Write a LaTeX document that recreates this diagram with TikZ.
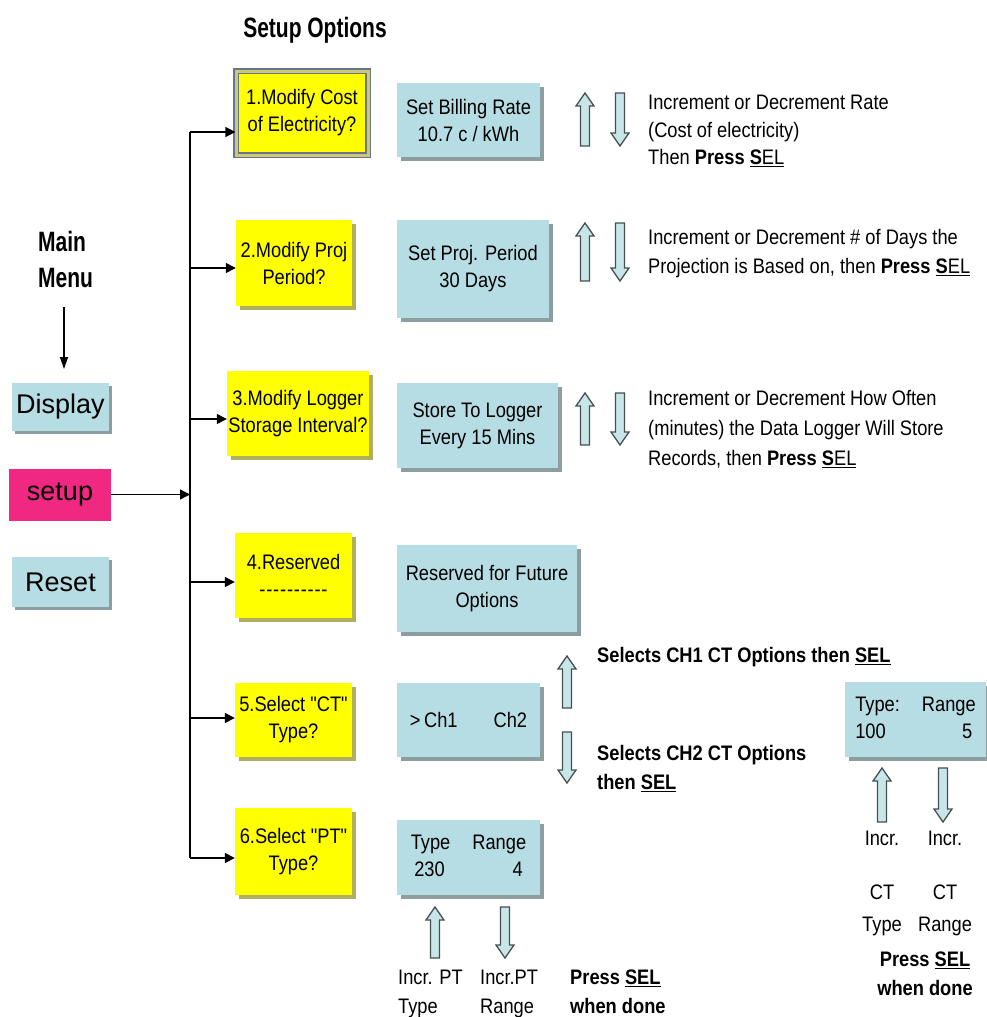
\documentclass[tikz,border=0pt]{standalone}
\usepackage{fontspec}
\setmainfont{Liberation Sans}
\newfontfamily\nar[FakeStretch=0.87]{Liberation Sans}
\newfontfamily\narb[FakeStretch=0.75]{Liberation Sans}
\usetikzlibrary{arrows.meta,shadows}
\definecolor{ylw}{RGB}{255,255,0}
\definecolor{yshd}{RGB}{175,175,95}
\definecolor{khaki}{RGB}{205,200,120}
\definecolor{frm}{RGB}{105,115,140}
\definecolor{lblue}{RGB}{183,221,228}
\definecolor{bshd}{RGB}{140,158,160}
\definecolor{pinkbox}{RGB}{240,40,130}
\definecolor{arrfill}{RGB}{200,230,232}
\definecolor{arrline}{RGB}{70,80,80}
\tikzset{
  boxfont/.style={font=\nar\fontsize{21}{27}\selectfont},
  ybox/.style={fill=ylw, draw=none, boxfont, align=center, inner sep=0pt,
    drop shadow={shadow xshift=4pt,shadow yshift=-4pt,fill=yshd,opacity=1}},
  bbox/.style={fill=lblue, draw=none, boxfont, align=center, inner sep=0pt,
    drop shadow={shadow xshift=4pt,shadow yshift=-4pt,fill=bshd,opacity=1}},
  menubox/.style={fill=lblue, draw=none, font=\fontsize{27}{30}\selectfont, inner sep=0pt,
    drop shadow={shadow xshift=3pt,shadow yshift=-3pt,fill=bshd,opacity=1}},
  desc/.style={font=\nar\fontsize{21}{29}\selectfont, align=left, inner sep=0pt, anchor=north west},
  descb/.style={font=\nar\bfseries\fontsize{21}{29}\selectfont, align=left, inner sep=0pt, anchor=north west},
  lbl/.style={font=\nar\fontsize{21}{32}\selectfont, align=center, inner sep=0pt},
  title/.style={font=\narb\bfseries\fontsize{28}{36}\selectfont, inner sep=0pt},
  arr/.style={line width=1.4pt, -{Triangle[length=10pt,width=10pt]}},
  conn/.style={line width=1.4pt},
  blk/.style={fill=arrfill, draw=arrline, line width=1.3pt, line join=miter},
}
\newcommand\blkup[3]{\draw[blk] (#1-4.5,#3) -- (#1-4.5,#2+13) -- (#1-9,#2+13) -- (#1,#2) -- (#1+9,#2+13) -- (#1+4.5,#2+13) -- (#1+4.5,#3) -- cycle;}
\newcommand\blkdn[3]{\draw[blk] (#1-4.5,#2) -- (#1-4.5,#3-13) -- (#1-9,#3-13) -- (#1,#3) -- (#1+9,#3-13) -- (#1+4.5,#3-13) -- (#1+4.5,#2) -- cycle;}
\newcommand\sel{\underline{\textbf{S}EL}}
\newcommand\dsh{-\kern0.8pt}
\begin{document}
\begin{tikzpicture}[x=1pt,y=-1pt]
\useasboundingbox[fill=white] (0,0) rectangle (986,1017);

% titles
\node[title] (setopt) at (315,30) {Setup Options};
\node[title, align=left, anchor=north west] (mm) at (38,231) {Main\\Menu};

% main menu boxes
\node[menubox, minimum width=97, minimum height=48] (disp) at (60.5,407) {Display};
\node[fill=pinkbox, draw=none, font=\fontsize{27}{30}\selectfont, inner sep=0pt,
      minimum width=102, minimum height=52] (setup) at (60,494.5) {setup};
\node[menubox, minimum width=97, minimum height=50] (reset) at (60.5,582) {Reset};

\coordinate (mmtop) at (64,307);
\coordinate (mmtip) at (64,369);
\draw[line width=1.4pt, -{Triangle[length=12pt,width=8pt]}] (mmtop) -- (mmtip);

% yellow option boxes
\node[fill=ylw, boxfont, align=center, inner sep=0pt, draw=frm, double=khaki,
      double distance=3pt, line width=1.2pt, minimum width=132, minimum height=84] (b1) at (302,113)
      {1.Modify Cost\\of Electricity?};
\node[ybox, minimum width=116, minimum height=86] (b2) at (294,263) {2.Modify Proj\\Period?};
\node[ybox, minimum width=142, minimum height=85] (b3) at (298,413.5) {3.Modify Logger\\Storage Interval?};
\node[ybox, minimum width=117, minimum height=85] (b4) at (293.5,575.5) {4.Reserved\\\dsh\dsh\dsh\dsh\dsh\dsh\dsh\dsh\dsh-};
\node[ybox, minimum width=117, minimum height=74] (b5) at (293.5,720) {5.Select "CT"\\Type?};
\node[ybox, minimum width=117, minimum height=87] (b6) at (293.5,851.5) {6.Select "PT"\\Type?};

% trunk
\coordinate (t1) at (190,132);
\coordinate (t2) at (190,268);
\coordinate (t3) at (190,419);
\coordinate (t4) at (190,582);
\coordinate (t5) at (190,718);
\coordinate (t6) at (190,858);
\draw[conn] (t1) -- (t6);
\draw[arr] (setup.east) -- (setup.east -| t1);
\foreach \i in {1,...,6} { \draw[arr] (t\i) -- (t\i -| b\i.west); }

% blue value boxes
\node[bbox, minimum width=143, minimum height=74] (c1) at (468.5,120) {Set Billing Rate\\10.7 c / kWh};
\node[bbox, minimum width=152, minimum height=98] (c2) at (473,269) {Set Proj. Period\\30 Days};
\node[bbox, minimum width=161, minimum height=85] (c3) at (477.5,425.5) {Store To Logger\\Every 15 Mins};
\node[bbox, minimum width=180, minimum height=87] (c4) at (487,588.5) {Reserved for Future\\Options};
\node[bbox, minimum width=143, minimum height=74] (c5) at (468.5,720) {>\,Ch1\hspace{36pt}Ch2};
\node[bbox, minimum width=143, minimum height=75] (c6) at (468.5,857.5)
   {\begin{tabular}{@{}l@{\hspace{22pt}}r@{}}Type & Range\\ \,230 & 4\,\end{tabular}};
\node[bbox, minimum width=141, minimum height=75] (c7) at (915.5,719.5)
   {\begin{tabular}{@{}l@{\hspace{22pt}}r@{}}Type: & Range\\ 100 & 5\,\end{tabular}};

% block arrows
\blkup{585}{93}{146}  \blkdn{620}{93}{146}
\blkup{585}{223}{281} \blkdn{620}{223}{281}
\blkup{585}{393}{445} \blkdn{620}{393}{445}
\blkup{567}{656}{708} \blkdn{567}{732}{783}
\blkup{435}{907}{958} \blkdn{505}{907}{958}
\blkup{882}{768}{822} \blkdn{943}{768}{822}

% descriptions
\node[desc, font=\nar\fontsize{21}{27.5}\selectfont] (d1) at (648,95) {Increment or Decrement Rate\\(Cost of electricity)\\Then \textbf{Press} \sel};
\node[desc] (d2) at (648,229) {Increment or Decrement \# of Days the\\Projection is Based on, then \textbf{Press} \sel};
\node[desc, font=\nar\fontsize{21}{30}\selectfont] (d3) at (648,390) {Increment or Decrement How Often\\(minutes) the Data Logger Will Store\\Records, then \textbf{Press} \sel};
\node[descb, anchor=west] (d5a) at (597,657) {Selects CH1 CT Options then \sel};
\node[descb] (d5b) at (597,745) {Selects CH2 CT Options\\then \sel};

% bottom labels (PT)
\node[desc] (p1) at (398,970) {Incr. PT\\Type};
\node[desc] (p2) at (480,970) {Incr.PT\\Range};
\node[descb] (p3) at (570,970) {Press \sel\\when done};

% CT labels
\node[lbl] (q1) at (882,838) {Incr.};
\node[lbl] (q2) at (945,838) {Incr.};
\node[lbl, anchor=north] (q3) at (882,885) {CT\\Type};
\node[lbl, anchor=north] (q4) at (945,885) {CT\\Range};
\node[descb, align=center, anchor=north] (q5) at (925,952) {Press \sel\\when done};
\end{tikzpicture}
\end{document}
